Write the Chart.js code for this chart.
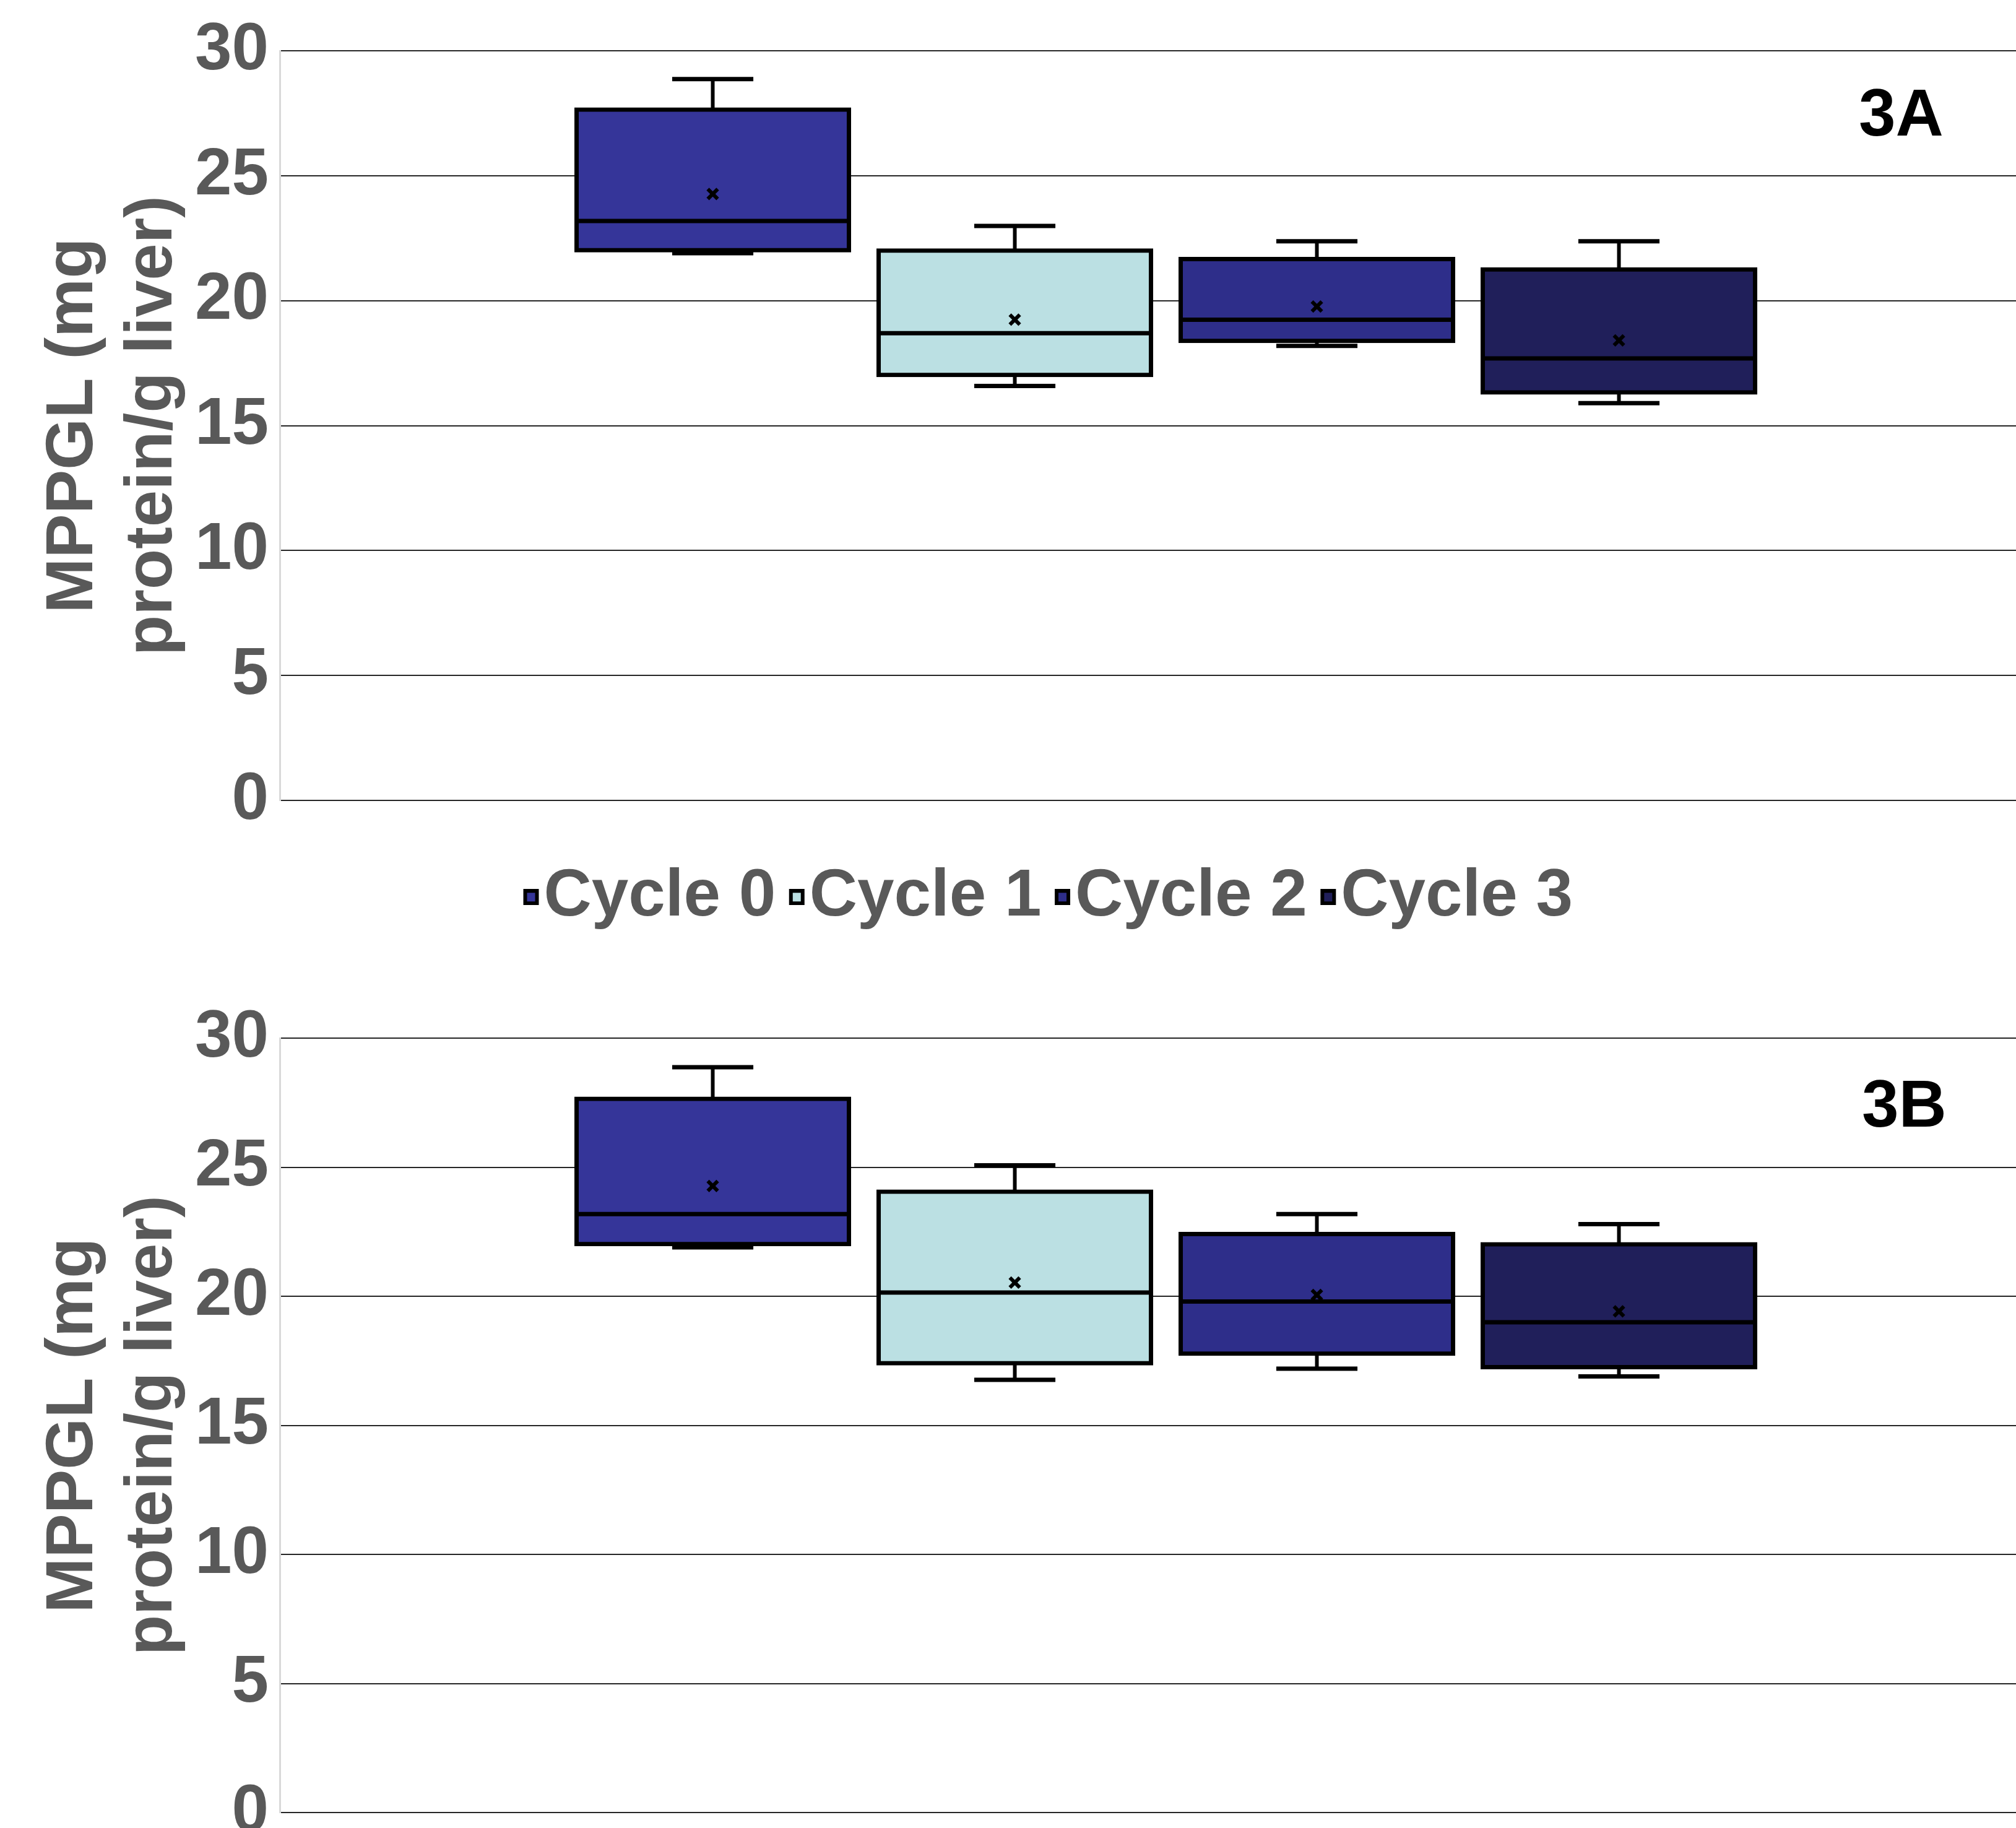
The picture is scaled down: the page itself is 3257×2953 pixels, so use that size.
<!DOCTYPE html>
<html>
<head>
<meta charset="utf-8">
<script src="https://cdn.jsdelivr.net/npm/chart.js@4.4.1/dist/chart.umd.min.js"></script>
<style>
  html, body { margin: 0; padding: 0; background: #fff; overflow: hidden; width: 3257px; height: 2953px; }
  canvas { position: absolute; left: 0; }
  #chartA { top: 0; }
  #chartB { top: 1580px; }
  .tag { position: absolute; font: bold 107px 'Liberation Sans', Arial, sans-serif; line-height: 107px; color: #000; }
</style>
</head>
<body>
<canvas id="chartA" width="3315" height="1560"></canvas>
<canvas id="chartB" width="3315" height="1438"></canvas>
<div class="tag" style="left:3003px; top:129px;">3A</div>
<div class="tag" style="left:3008px; top:1730px;">3B</div>
<script>
const cycles = ['Cycle 0', 'Cycle 1', 'Cycle 2', 'Cycle 3'];
const colors = ['#353599', '#bbe0e3', '#2e2e8a', '#201f5a'];
const yTicks = [0, 5, 10, 15, 20, 25, 30];

// panel 3A
const minA = [21.90, 16.59, 18.19, 15.90];
const q1A = [22.02, 17.03, 18.39, 16.33];
const medA = [23.19, 18.70, 19.24, 17.69];
const q3A = [27.65, 22.01, 21.67, 21.25];
const maxA = [28.87, 22.99, 22.38, 22.38];
const meanA = [24.27, 19.24, 19.77, 18.41];

// panel 3B
const minB = [21.90, 16.77, 17.20, 16.90];
const q1B = [22.03, 17.41, 17.78, 17.26];
const medB = [23.19, 20.15, 19.80, 19.00];
const q3B = [27.66, 24.06, 22.42, 22.02];
const maxB = [28.88, 25.08, 23.19, 22.80];
const meanB = [24.28, 20.54, 20.06, 19.42];

Chart.defaults.font.family = "'Liberation Sans', Arial, sans-serif";
Chart.defaults.color = '#595959';

// legend marker: small black square with coloured centre, sitting right of the image centre
function makeMarker(color) {
    const c = document.createElement('canvas');
    c.width = 100;
    c.height = 26;
    const g = c.getContext('2d');
    g.fillStyle = '#000';
    g.fillRect(71, 0, 25, 26);
    g.fillStyle = color;
    g.fillRect(77, 6, 13, 14);
    return c;
}
const markers = colors.map(makeMarker);

// whiskers, caps, median and mean drawn on top of the floating bars
function boxParts(id, mins, q1s, meds, q3s, maxs, means) {
    return {
        id: id,
        afterDatasetsDraw(chart) {
            const ctx = chart.ctx;
            const y = chart.scales.y;
            const seg = (x1, y1, x2, y2) => {
                ctx.beginPath();
                ctx.moveTo(x1, y1);
                ctx.lineTo(x2, y2);
                ctx.stroke();
            };
            ctx.save();
            ctx.strokeStyle = '#000';
            chart.data.datasets.forEach((ds, i) => {
                const bar = chart.getDatasetMeta(i).data[0];
                const {x, width} = bar.getProps(['x', 'width'], true);
                const half = width / 2;
                const cap = width * 0.149;
                ctx.lineWidth = 6;
                seg(x, y.getPixelForValue(q3s[i]), x, y.getPixelForValue(maxs[i]));
                seg(x, y.getPixelForValue(q1s[i]), x, y.getPixelForValue(mins[i]));
                ctx.lineWidth = 7;
                seg(x - cap, y.getPixelForValue(maxs[i]), x + cap, y.getPixelForValue(maxs[i]));
                seg(x - cap, y.getPixelForValue(mins[i]), x + cap, y.getPixelForValue(mins[i]));
                seg(x - half, y.getPixelForValue(meds[i]), x + half, y.getPixelForValue(meds[i]));
                const my = y.getPixelForValue(means[i]);
                ctx.lineWidth = 6;
                seg(x - 8, my - 8, x + 8, my + 8);
                seg(x - 8, my + 8, x + 8, my - 8);
            });
            ctx.restore();
        }
    };
}

function makeDatasets(q1s, q3s) {
    return cycles.map((name, i) => ({
        label: name,
        data: [[q1s[i], q3s[i]]],
        backgroundColor: colors[i],
        borderColor: '#000',
        borderWidth: 7,
        borderSkipped: false,
        inflateAmount: 3.5,
        categoryPercentage: 0.6818,
        barPercentage: 0.9016,
    }));
}

function makeOptions(showLegend, padding) {
    return {
        responsive: false,
        animation: false,
        events: [],
        layout: { padding: padding },
        plugins: {
            tooltip: { enabled: false },
            legend: {
                display: showLegend,
                position: 'bottom',
                title: { display: true, text: ' ', font: { size: 10 }, padding: { top: 90.7, bottom: 0 } },
                labels: {
                    usePointStyle: true,
                    pointStyleWidth: 1,
                    padding: 0,
                    color: '#595959',
                    font: { size: 107, weight: 'bold' },
                    generateLabels: (chart) => chart.data.datasets.map((ds, i) => ({
                        text: ds.label,
                        pointStyle: markers[i],
                        fillStyle: ds.backgroundColor,
                        strokeStyle: '#000',
                        lineWidth: 0,
                        hidden: false,
                        datasetIndex: i,
                    })),
                },
            },
        },
        scales: {
            x: { display: false },
            y: {
                min: 0,
                max: 30,
                afterBuildTicks: (s) => { s.ticks = yTicks.map(v => ({ value: v })); },
                afterFit: (s) => { s.width = 402; },
                grid: { color: '#262626', lineWidth: 2, drawTicks: false },
                border: { display: true, color: '#d9d9d9', width: 3 },
                ticks: { padding: 18, color: '#595959', font: { size: 107, weight: 'bold' } },
                title: {
                    display: true,
                    text: ['MPPGL (mg', 'protein/g liver)'],
                    color: '#595959',
                    font: { size: 107, weight: 'bold', lineHeight: 1.2 },
                    padding: { top: 5, bottom: 0 },
                },
            },
        },
    };
}

var ctxA = document.getElementById('chartA').getContext('2d');
var chartA = new Chart(ctxA, {
    type: 'bar',
    data: { labels: [''], datasets: makeDatasets(q1A, q3A) },
    options: makeOptions(true, { left: 50, top: 82, right: 0, bottom: 47.3 }),
    plugins: [boxParts('boxA', minA, q1A, medA, q3A, maxA, meanA)],
});

var ctxB = document.getElementById('chartB').getContext('2d');
var chartB = new Chart(ctxB, {
    type: 'bar',
    data: { labels: [''], datasets: makeDatasets(q1B, q3B) },
    options: makeOptions(false, { left: 50, top: 97.4, right: 0, bottom: 90 }),
    plugins: [boxParts('boxB', minB, q1B, medB, q3B, maxB, meanB)],
});
</script>
</body>
</html>
